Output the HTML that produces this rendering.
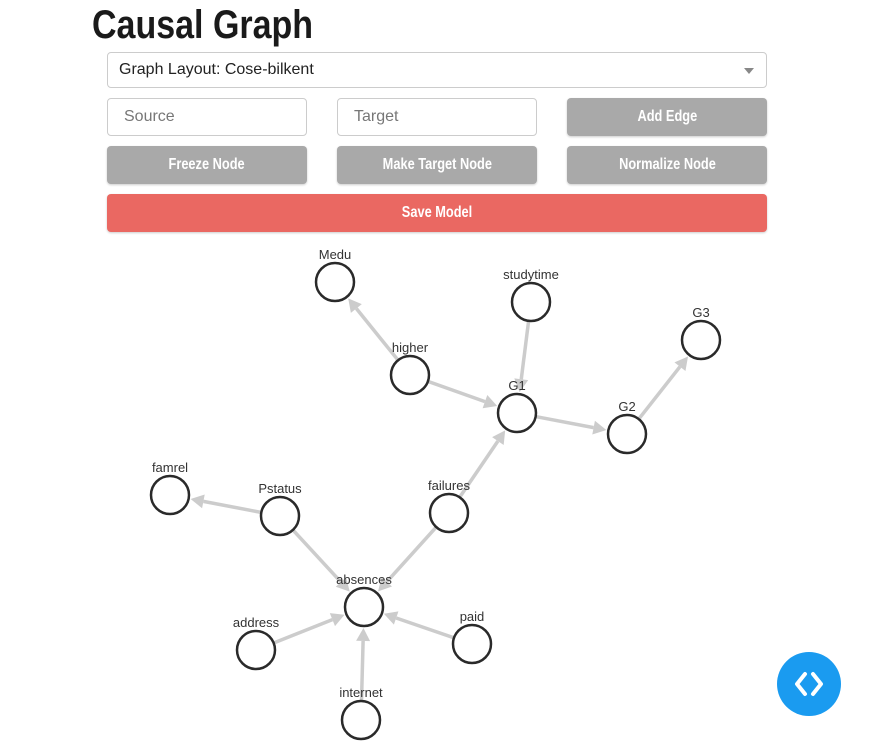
<!DOCTYPE html>
<html><head><meta charset="utf-8"><style>
body{margin:0;width:874px;height:742px;background:#fff;font-family:"Liberation Sans",sans-serif;overflow:hidden;position:relative}
.title{position:absolute;left:92px;top:3px;font-family:"Liberation Sans Narrow","Liberation Sans",sans-serif;font-size:40px;font-weight:bold;color:#1a1a1a;transform:scaleX(0.85);transform-origin:left}
.box{position:absolute;border:1px solid #ccc;border-radius:4px;box-sizing:border-box;background:#fff;font-size:16px;color:#777;display:flex;align-items:center;padding-left:16px}
.btn{position:absolute;border-radius:4px;background:#a9a9a9;color:#fff;font-family:"Liberation Sans",sans-serif;font-weight:bold;font-size:16px;display:flex;align-items:center;justify-content:center;box-shadow:0 1px 2px rgba(0,0,0,.2)}
.btn span{display:inline-block;transform:scaleX(0.8);white-space:nowrap}
</style></head><body>
<div class="title">Causal Graph</div>
<div class="box" style="left:107px;top:52px;width:660px;height:36px;color:#222;padding-left:11px">Graph Layout: Cose-bilkent<span style="position:absolute;right:12px;top:15px;border:5px solid transparent;border-top:6px solid #888"></span></div>
<div class="box" style="left:107px;top:98px;width:200px;height:38px">Source</div>
<div class="box" style="left:337px;top:98px;width:200px;height:38px">Target</div>
<div class="btn" style="left:567px;top:98px;width:200px;height:38px"><span>Add Edge</span></div>
<div class="btn" style="left:107px;top:146px;width:200px;height:38px"><span>Freeze Node</span></div>
<div class="btn" style="left:337px;top:146px;width:200px;height:38px"><span>Make Target Node</span></div>
<div class="btn" style="left:567px;top:146px;width:200px;height:38px"><span>Normalize Node</span></div>
<div class="btn" style="left:107px;top:194px;width:660px;height:38px;background:#ea6862"><span>Save Model</span></div>
<svg id="g" width="874" height="742" style="position:absolute;left:0;top:0"></svg>
<div style="position:absolute;left:777px;top:652px;width:64px;height:64px;border-radius:50%;background:#1a9bf0">
<svg width="64" height="64"><path d="M28 22 L20 32 L28 42 M36 22 L44 32 L36 42" stroke="#fff" stroke-width="4" fill="none" stroke-linecap="round" stroke-linejoin="round"/></svg></div>
<script>
const nodeNames=["Medu","studytime","G3","higher","G1","G2","famrel","Pstatus","failures","absences","address","paid","internet"];
const nodeX=[335,531,701,410,517,627,170,280,449,364,256,472,361];
const nodeY=[282,302,340,375,413,434,495,516,513,607,650,644,720];
const edgeFrom=["higher","studytime","higher","G1","G2","Pstatus","Pstatus","failures","failures","address","paid","internet"];
const edgeTo=["Medu","G1","G1","G2","G3","famrel","absences","G1","absences","absences","absences","absences"];
const svg=document.getElementById('g');const NS="http://www.w3.org/2000/svg";const R=19;
function mk(t,a){const e=document.createElementNS(NS,t);for(const k in a)e.setAttribute(k,a[k]);svg.appendChild(e);return e;}
edgeFrom.forEach((f,i)=>{const a=nodeNames.indexOf(f),b=nodeNames.indexOf(edgeTo[i]);
const x1=nodeX[a],y1=nodeY[a],x2=nodeX[b],y2=nodeY[b];const d=Math.hypot(x2-x1,y2-y1),ux=(x2-x1)/d,uy=(y2-y1)/d;
const ex=x2-ux*(R+2),ey=y2-uy*(R+2);const bx=ex-ux*13,by=ey-uy*13;
const l=mk('line',{x1:x1+ux*R,y1:y1+uy*R,x2:bx,y2:by,stroke:'#ccc','stroke-width':3.5});


const p=mk('polygon',{points:`${ex},${ey} ${bx-uy*7},${by+ux*7} ${bx+uy*7},${by-ux*7}`,fill:'#ccc'});

});
nodeNames.forEach((n,i)=>{const c=mk('circle',{cx:nodeX[i],cy:nodeY[i],r:R,fill:'#fff',stroke:'#2a2a2a','stroke-width':2.5});


const t=mk('text',{x:nodeX[i],y:nodeY[i]-23,'text-anchor':'middle','font-size':13,fill:'#333','font-family':'Liberation Sans, sans-serif'});t.textContent=n;

});
</script>
</body></html>
